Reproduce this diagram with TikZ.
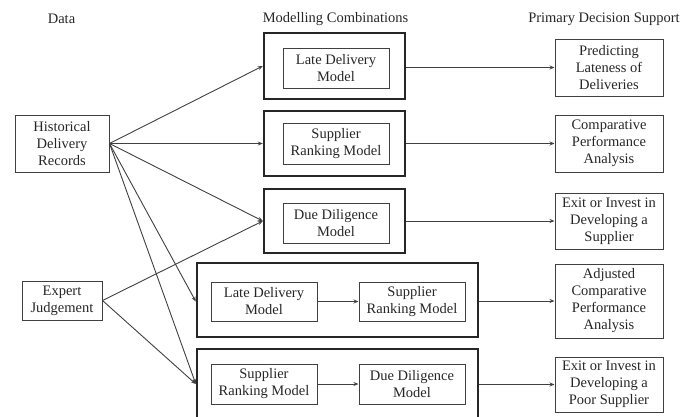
\documentclass[tikz,border=0pt]{standalone}
\usepackage{fontspec}
\setmainfont{Liberation Serif}
\usepackage{tikz}
\usetikzlibrary{arrows.meta}

\begin{document}
\begin{tikzpicture}[x=1pt, y=-1pt, ->, >={Stealth[length=5pt,width=4pt]},
	font=\fontsize{14.5}{17}\selectfont, color=black!85,
	box/.style={draw=black!75, line width=1pt, inner sep=0pt, align=center},
	combo/.style={draw=black!85, line width=2.4pt, inner sep=0pt},
	head/.style={inner sep=0pt}]
		\useasboundingbox (0,0) rectangle (700,416);

		\node[head] (hd) at (61.5,19) {Data};
		\node[head] (hm) at (335.5,19) {Modelling Combinations};
		\node[head] (hp) at (604,19) {Primary Decision Support};

		\node[box, minimum width=94, minimum height=57] (hdr) at (62,143.5) {Historical\\Delivery\\Records};
		\node[box, minimum width=80, minimum height=39] (exp) at (62,300.5) {Expert\\Judgement};

		\node[combo, minimum width=141, minimum height=66] (o1) at (334.5,66) {};
		\node[combo, minimum width=141, minimum height=65] (o2) at (334.5,143.5) {};
		\node[combo, minimum width=141, minimum height=64] (o3) at (334.5,221) {};
		\node[combo, minimum width=281, minimum height=74] (o4) at (337.5,300) {};
		\node[combo, minimum width=281, minimum height=76] (o5) at (337.5,387) {};

		\node[box, minimum width=106, minimum height=40] (ld1) at (336,68) {Late Delivery\\Model};
		\node[box, minimum width=106, minimum height=41] (sr2) at (336,143.5) {Supplier\\Ranking Model};
		\node[box, minimum width=106, minimum height=40] (dd3) at (336,223) {Due Diligence\\Model};
		\node[box, minimum width=106, minimum height=39] (ld4) at (264,301.5) {Late Delivery\\Model};
		\node[box, minimum width=106, minimum height=39] (sr4) at (412,301.5) {Supplier\\Ranking Model};
		\node[box, minimum width=106, minimum height=40] (sr5) at (264,384) {Supplier\\Ranking Model};
		\node[box, minimum width=106, minimum height=40] (dd5) at (412,384) {Due Diligence\\Model};

		\node[box, minimum width=108, minimum height=57] (r1) at (609,67.5) {Predicting\\Lateness of\\Deliveries};
		\node[box, minimum width=108, minimum height=57] (r2) at (609,143.5) {Comparative\\Performance\\Analysis};
		\node[box, minimum width=108, minimum height=56] (r3) at (609,221) {Exit or Invest in\\Developing a\\Supplier};
		\node[box, minimum width=108, minimum height=74] (r4) at (609,301) {Adjusted\\Comparative\\Performance\\Analysis};
		\node[box, minimum width=108, minimum height=55] (r5) at (609,384.5) {Exit or Invest in\\Developing a\\Poor Supplier};

		\path[line width=0.9pt, color=black!75]
		(hdr.east) edge (o1.west)
		edge (o2.west)
		edge (o3.west)
		edge (o4.west |- ld4.center)
		edge (o5.west |- sr5.center)
		(exp.east) edge (o3.west)
		edge (o5.west |- sr5.center)
		(ld4) edge (sr4)
		(sr5) edge (dd5)
		(o1.east |- r1.west) edge (r1.west)
		(o2.east |- r2.west) edge (r2.west)
		(o3.east |- r3.west) edge (r3.west)
		(o4.east |- r4.west) edge (r4.west)
		(o5.east |- r5.west) edge (r5.west);
	\end{tikzpicture}
\end{document}
